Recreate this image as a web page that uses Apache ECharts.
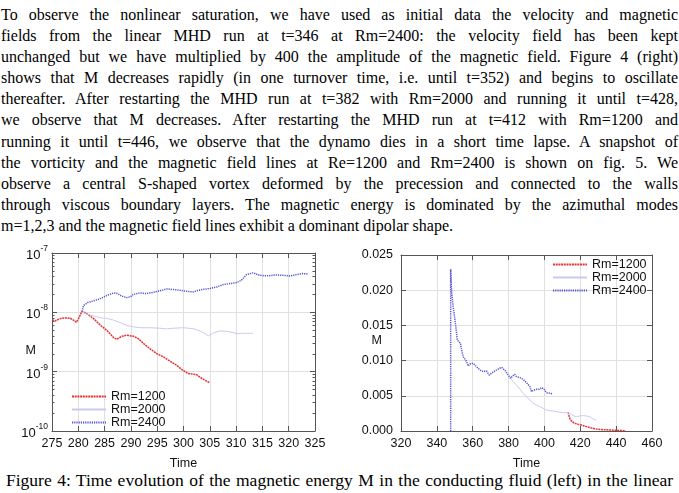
<!DOCTYPE html>
<html>
<head>
<meta charset="utf-8">
<script src="https://cdn.jsdelivr.net/npm/echarts@6/dist/echarts.min.js"></script>
<style>
  html, body { margin: 0; padding: 0; background: #fff; }
  #page { position: relative; width: 679px; height: 493px; overflow: hidden;
          font-family: "Liberation Serif", "Times New Roman", serif; color: #000; }
  #text { position: absolute; left: 1px; top: 4px; width: 677px; font-size: 16px; line-height: 21.1px; }
  #text div { text-align: justify; text-align-last: justify; }
  #text div.last { text-align-last: left; }
  #caption { position: absolute; left: 6px; top: 470px; width: 667px; font-size: 17.5px; line-height: 20px;
             text-align: justify; text-align-last: justify; white-space: nowrap; }
  #chart { position: absolute; left: 0; top: 0; width: 679px; height: 493px; }
</style>
</head>
<body>
<div id="page">
  <div id="text"></div>
  <div id="caption"></div>
  <div id="chart"></div>
</div>
<script>
// --- text ---------------------------------------------------------------
const paragraphLines = [
  'To observe the nonlinear saturation, we have used as initial data the velocity and magnetic',
  'fields from the linear MHD run at t=346 at Rm=2400: the velocity field has been kept',
  'unchanged but we have multiplied by 400 the amplitude of the magnetic field. Figure 4 (right)',
  'shows that M decreases rapidly (in one turnover time, i.e. until t=352) and begins to oscillate',
  'thereafter. After restarting the MHD run at t=382 with Rm=2000 and running it until t=428,',
  'we observe that M decreases. After restarting the MHD run at t=412 with Rm=1200 and',
  'running it until t=446, we observe that the dynamo dies in a short time lapse.  A snapshot of',
  'the vorticity and the magnetic field lines at Re=1200 and Rm=2400 is shown on fig. 5. We',
  'observe a central S-shaped vortex deformed by the precession and connected to the walls',
  'through viscous boundary layers. The magnetic energy is dominated by the azimuthal modes',
  'm=1,2,3 and the magnetic field lines exhibit a dominant dipolar shape.'
];
const captionText = 'Figure 4: Time evolution of the magnetic energy M in the conducting fluid (left) in the linear';

// --- data: left panel (linear run, log scale) ----------------------------
const linRm1200 = [
  [275.0, 7.4e-9], [275.6, 7.2e-9], [276.6, 7.85e-9], [277.5, 8.05e-9], [278.5, 7.95e-9],
  [279.1, 7.36e-9], [279.6, 6.8e-9], [280.05, 7.85e-9], [280.7, 1.04e-8], [281.6, 9.5e-9],
  [282.9, 7.85e-9], [284.2, 6.05e-9], [285.4, 4.99e-9], [286.7, 3.76e-9], [287.3, 3.52e-9],
  [288.3, 3.95e-9], [289.2, 4.11e-9], [290.5, 3.95e-9], [291.4, 3.61e-9], [292.4, 2.98e-9],
  [293.6, 2.45e-9], [294.9, 2.02e-9], [296.2, 1.77e-9], [297.4, 1.51e-9], [298.7, 1.28e-9],
  [299.7, 1.08e-9], [300.9, 9.3e-10], [301.9, 9.05e-10], [302.5, 8.9e-10], [303.1, 8.1e-10],
  [304.1, 7.15e-10], [305.0, 6.5e-10]
];
const linRm2000 = [
  [280.7, 1.03e-8], [281.6, 9.3e-9], [282.9, 8.75e-9], [284.2, 8.05e-9], [285.4, 7.9e-9],
  [286.7, 7.4e-9], [288.0, 6.7e-9], [289.2, 6.0e-9], [290.5, 5.7e-9], [291.8, 5.5e-9],
  [293.6, 5.5e-9], [295.5, 5.4e-9], [296.8, 5.25e-9], [298.1, 5.4e-9], [300.0, 5.5e-9],
  [301.9, 5.3e-9], [303.1, 4.85e-9], [304.1, 4.38e-9], [304.7, 4.0e-9], [305.7, 4.5e-9],
  [306.9, 4.85e-9], [308.2, 4.8e-9], [309.4, 4.55e-9], [310.1, 4.38e-9], [311.3, 4.43e-9],
  [313.2, 4.43e-9]
];
const linRm2400 = [
  [280.7, 1.03e-8], [281.0, 1.31e-8], [281.8, 1.46e-8], [282.9, 1.56e-8], [284.2, 1.70e-8],
  [285.4, 1.92e-8], [286.7, 2.12e-8], [287.3, 2.10e-8], [288.3, 1.87e-8], [289.2, 1.77e-8],
  [289.9, 1.82e-8], [290.5, 2.02e-8], [291.8, 2.12e-8], [293.0, 2.07e-8], [294.3, 2.18e-8],
  [295.5, 2.30e-8], [296.8, 2.48e-8], [298.1, 2.42e-8], [299.3, 2.36e-8], [300.6, 2.26e-8],
  [301.9, 2.21e-8], [302.5, 2.30e-8], [303.8, 2.45e-8], [305.0, 2.51e-8], [306.3, 2.68e-8],
  [307.6, 2.94e-8], [308.8, 3.05e-8], [310.1, 3.17e-8], [311.0, 3.47e-8], [312.0, 4.33e-8],
  [313.2, 4.62e-8], [314.5, 4.21e-8], [315.8, 4.11e-8], [317.7, 4.27e-8], [318.9, 4.21e-8],
  [320.2, 4.11e-8], [321.5, 4.33e-8], [322.7, 4.5e-8], [323.7, 4.43e-8]
];

// --- data: right panel (nonlinear run, linear scale) ---------------------
const nlRm1200 = [
  [413.2, 0.00265], [414.1, 0.0018], [415.4, 0.00133], [416.9, 0.00109], [418.8, 0.00095],
  [420.6, 0.00085], [423.4, 0.00062], [426.2, 0.00043], [429.0, 0.00028], [432.7, 0.00019],
  [436.4, 0.00014], [440.1, 0.0001], [443.8, 0.00005], [445.3, 0.00002]
];
const nlRm2000 = [
  [381.1, 0.00748], [382.6, 0.00701], [384.4, 0.00653], [386.3, 0.00597], [388.1, 0.00535],
  [390.0, 0.00488], [391.9, 0.0044], [393.7, 0.00393], [395.6, 0.00369], [397.4, 0.00346],
  [399.3, 0.00322], [401.1, 0.00298], [403.0, 0.00289], [404.8, 0.00284], [406.7, 0.00275],
  [408.6, 0.00265], [410.4, 0.0026], [412.3, 0.0026], [414.1, 0.00251], [416.0, 0.00218],
  [417.8, 0.00204], [419.7, 0.00213], [421.6, 0.00218], [423.4, 0.00213], [425.3, 0.00204],
  [427.1, 0.00175], [429.0, 0.00152]
];
const nlRm2400 = [
  [347.7, 0], [347.7, 0.02296], [348.2, 0.0200], [349.1, 0.01766], [350.1, 0.01577],
  [351.0, 0.01387], [351.4, 0.01293], [351.9, 0.01269], [352.5, 0.01302], [353.2, 0.01245],
  [353.8, 0.01151], [354.7, 0.01056], [355.6, 0.01046], [356.6, 0.00985], [357.5, 0.00923],
  [358.4, 0.00952], [359.4, 0.00971], [360.3, 0.00961], [361.2, 0.00938], [362.5, 0.00904],
  [364.0, 0.00867], [365.9, 0.00843], [367.7, 0.00852], [369.2, 0.00795], [370.5, 0.00819],
  [371.8, 0.00843], [373.3, 0.00867], [374.8, 0.0089], [376.1, 0.00904], [377.0, 0.00895],
  [378.3, 0.00852], [379.8, 0.00795], [381.1, 0.00748], [382.2, 0.00781], [383.5, 0.00805],
  [384.4, 0.00772], [386.3, 0.00758], [388.1, 0.00734], [390.0, 0.00687], [391.9, 0.0063],
  [392.8, 0.00559], [394.1, 0.00582], [395.6, 0.00592], [397.1, 0.00592], [398.4, 0.00616],
  [399.7, 0.00597], [401.1, 0.00545], [403.0, 0.00535], [404.8, 0.00526]
];

const seriesNames = ['Rm=1200', 'Rm=2000', 'Rm=2400'];

// --- build text ----------------------------------------------------------
const textBox = document.getElementById('text');
paragraphLines.forEach((line, i) => {
  const d = document.createElement('div');
  d.textContent = line;
  if (i === paragraphLines.length - 1) d.className = 'last';
  textBox.appendChild(d);
});
document.getElementById('caption').textContent = captionText;

// --- chart ---------------------------------------------------------------
const SANS = '"Liberation Sans", Arial, sans-serif';
const FS = 12.5;
const FRAME = '#555';
const GRID = '#e0e0e0';
const INK = '#111';

const styles = {
  'Rm=1200': { color: '#e23434', width: 1.5, type: [2, 0.7] },
  'Rm=2000': { color: '#c9c9f4', width: 1, type: 'solid' },
  'Rm=2400': { color: '#5252d4', width: 1.5, type: [1.2, 1] }
};

function frameAxis(extra) {
  return Object.assign({
    axisLine: { show: true, onZero: false, lineStyle: { color: FRAME, width: 1 } },
    axisTick: { show: true, inside: true, length: 5, lineStyle: { color: FRAME } },
    axisLabel: { show: false },
    splitLine: { show: false }
  }, extra);
}

function labelled(extra) {
  return frameAxis(Object.assign({
    axisLabel: { show: true, color: INK, fontFamily: SANS, fontSize: FS },
    splitLine: { show: true, lineStyle: { color: GRID, width: 1 } }
  }, extra));
}

function line(name, data, xi, yi) {
  const s = styles[name];
  return {
    name, type: 'line', data, xAxisIndex: xi, yAxisIndex: yi,
    showSymbol: false, symbol: 'none', animation: false,
    lineStyle: { color: s.color, width: s.width, type: s.type },
    itemStyle: { color: s.color }
  };
}

const supFmt = v => '{a|10}{b|' + Math.round(Math.log10(v)) + '}';
const logY = { type: 'log', logBase: 10, min: 1e-10, max: 1e-7 };

function legendAt(left, top) {
  return {
    data: seriesNames, orient: 'vertical', left, top, itemWidth: 34, itemHeight: 6,
    itemGap: 0, selectedMode: false,
    itemStyle: { opacity: 0, borderWidth: 0 },
    textStyle: { color: INK, fontFamily: SANS, fontSize: FS, lineHeight: 13 }
  };
}

const option = {
  animation: false,
  textStyle: { fontFamily: SANS, color: INK },
  grid: [
    { left: 52, top: 253, width: 263, height: 178 },
    { left: 401, top: 255, width: 251, height: 176 }
  ],
  xAxis: [
    labelled({ gridIndex: 0, type: 'value', min: 275, max: 325, interval: 5, position: 'bottom',
      axisLabel: { show: true, color: INK, fontFamily: SANS, fontSize: FS, margin: 6 },
      name: 'Time', nameLocation: 'middle', nameGap: 26,
      nameTextStyle: { color: INK, fontFamily: SANS, fontSize: FS } }),
    frameAxis({ gridIndex: 0, type: 'value', min: 275, max: 325, interval: 5, position: 'top' }),
    labelled({ gridIndex: 1, type: 'value', min: 320, max: 460, interval: 20, position: 'bottom',
      axisLabel: { show: true, color: INK, fontFamily: SANS, fontSize: FS, margin: 6 },
      name: 'Time', nameLocation: 'middle', nameGap: 26,
      nameTextStyle: { color: INK, fontFamily: SANS, fontSize: FS } }),
    frameAxis({ gridIndex: 1, type: 'value', min: 320, max: 460, interval: 20, position: 'top' })
  ],
  yAxis: [
    labelled(Object.assign({ gridIndex: 0, position: 'left',
      minorTick: { show: true, splitNumber: 9, length: 2.5, lineStyle: { color: FRAME } },
      axisLabel: { show: true, color: INK, fontFamily: SANS, margin: 4, formatter: supFmt,
        rich: {
          a: { fontSize: 13, fontFamily: SANS, color: INK, lineHeight: 18, verticalAlign: 'bottom' },
          b: { fontSize: 8.5, fontFamily: SANS, color: INK, lineHeight: 18, verticalAlign: 'top' }
        } } }, logY)),
    frameAxis(Object.assign({ gridIndex: 0, position: 'right',
      minorTick: { show: true, splitNumber: 9, length: 2.5, lineStyle: { color: FRAME } } }, logY)),
    labelled({ gridIndex: 1, type: 'value', min: 0, max: 0.025, interval: 0.005, position: 'left',
      axisLabel: { show: true, color: INK, fontFamily: SANS, fontSize: FS, margin: 8,
        formatter: v => v.toFixed(3) } }),
    frameAxis({ gridIndex: 1, type: 'value', min: 0, max: 0.025, interval: 0.005, position: 'right' })
  ],
  legend: [legendAt(66, 385), legendAt(547, 253)],
  graphic: [
    { type: 'text', left: 25.5, top: 344, style: { text: 'M', fill: INK, font: FS + 'px ' + SANS } },
    { type: 'text', left: 371.5, top: 334, style: { text: 'M', fill: INK, font: FS + 'px ' + SANS } }
  ],
  series: [
    line('Rm=1200', linRm1200, 0, 0),
    line('Rm=2000', linRm2000, 0, 0),
    line('Rm=2400', linRm2400, 0, 0),
    line('Rm=1200', nlRm1200, 2, 2),
    line('Rm=2000', nlRm2000, 2, 2),
    line('Rm=2400', nlRm2400, 2, 2)
  ]
};

const chart = echarts.init(document.getElementById('chart'), null, { renderer: 'canvas' });
chart.setOption(option);
</script>
</body>
</html>
